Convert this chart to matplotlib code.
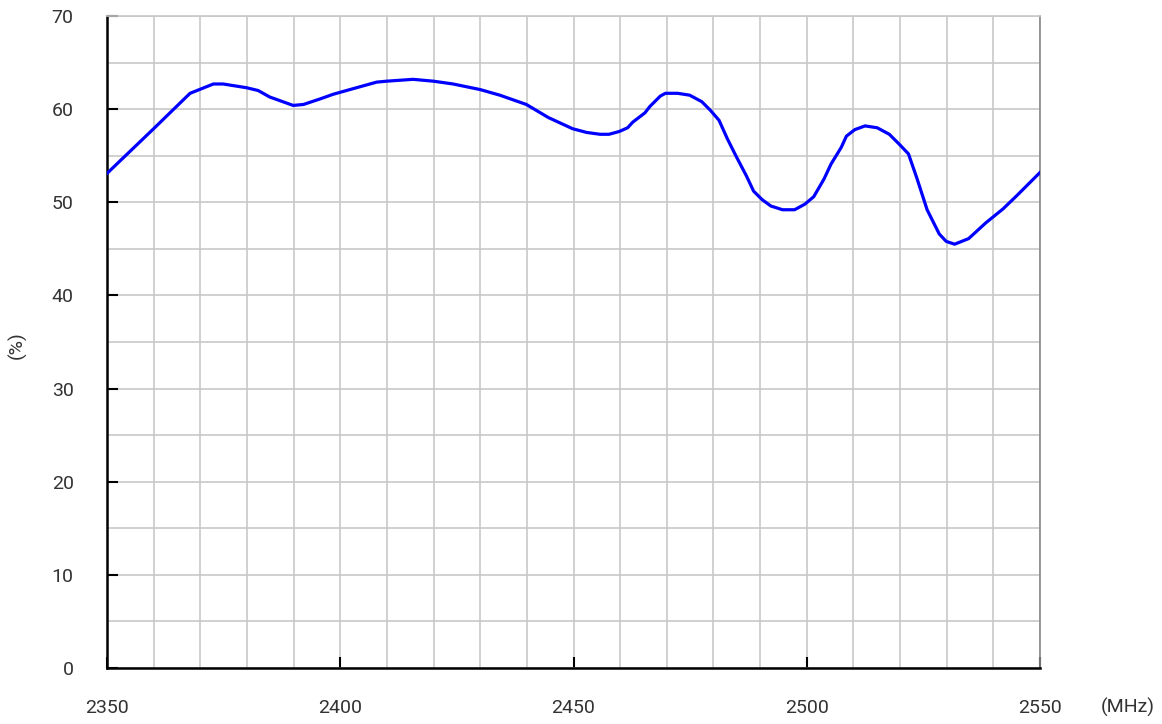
import numpy as np
import matplotlib.pyplot as plt
from matplotlib.ticker import MultipleLocator

plt.rcParams['font.family'] = ['Roboto', 'DejaVu Sans']

# frequency (MHz) and efficiency (%)
freq = [2350, 2360, 2367.8, 2372.8, 2374.9, 2379.9, 2382.4, 2384.9, 2389.9, 2392.1,
        2395.7, 2398.5, 2404.2, 2407.8, 2409.9, 2415.6, 2420, 2424.2, 2430, 2434.2,
        2439.9, 2444.6, 2449.8, 2452.8, 2455.7, 2457.6, 2459.8, 2461.6, 2462.7, 2465.3,
        2466.4, 2468.6, 2469.7, 2472.3, 2474.9, 2477.5, 2479.3, 2481.2, 2483.0, 2484.9,
        2487.1, 2488.6, 2490.4, 2492.3, 2494.8, 2497.4, 2499.6, 2501.5, 2503.7, 2505.2,
        2507.4, 2508.5, 2510.3, 2512.5, 2515.1, 2517.7, 2519.9, 2521.8, 2523.6, 2525.8,
        2528.4, 2529.9, 2531.7, 2534.7, 2538.4, 2542.1, 2545.0, 2550]
eff = [53.1, 57.9, 61.7, 62.7, 62.7, 62.3, 62.0, 61.3, 60.4, 60.5,
       61.1, 61.6, 62.4, 62.9, 63.0, 63.2, 63.0, 62.7, 62.1, 61.5,
       60.5, 59.1, 57.9, 57.5, 57.3, 57.3, 57.6, 58.0, 58.6, 59.6,
       60.3, 61.4, 61.7, 61.7, 61.5, 60.8, 59.9, 58.8, 56.8, 54.9,
       52.8, 51.2, 50.3, 49.6, 49.2, 49.2, 49.8, 50.6, 52.5, 54.1,
       55.9, 57.1, 57.8, 58.2, 58.0, 57.3, 56.2, 55.2, 52.6, 49.2,
       46.6, 45.8, 45.5, 46.1, 47.8, 49.3, 50.7, 53.2]

fig = plt.figure(figsize=(11.62, 7.24), dpi=100)
ax = fig.add_axes([107/1162, 56/724, 933/1162, 652/724])

ax.plot(freq, eff, color='#0000ff', linewidth=2.3, zorder=3)

ax.set_xlim(2350, 2550)
ax.set_ylim(0, 70)
ax.xaxis.set_major_locator(MultipleLocator(50))
ax.xaxis.set_minor_locator(MultipleLocator(10))
ax.yaxis.set_major_locator(MultipleLocator(10))
ax.yaxis.set_minor_locator(MultipleLocator(5))
ax.grid(which='both', color='#c8c8c8', linewidth=1.2)
ax.set_axisbelow(True)

ax.tick_params(which='major', direction='in', length=8, width=1.5, color='black',
               labelsize=14, labelcolor='#333333')
ax.tick_params(axis='x', which='major', pad=22)
ax.tick_params(axis='y', which='major', pad=24)
ax.tick_params(which='minor', length=0)

for s in ['left', 'bottom']:
    ax.spines[s].set_color('black')
    ax.spines[s].set_linewidth(1.8)
ax.spines['top'].set_color('#c8c8c8')
ax.spines['top'].set_linewidth(1.2)
ax.spines['right'].set_color('#888888')
ax.spines['right'].set_linewidth(1.2)

fig.text(17/1162, 1 - 345/724, '(%)', rotation=90, ha='center', va='center',
         fontsize=14, color='#333333')
fig.text(1128/1162, 1 - 707/724, '(MHz)', ha='center', va='center',
         fontsize=14, color='#333333')

plt.savefig('out.png', dpi=100)
